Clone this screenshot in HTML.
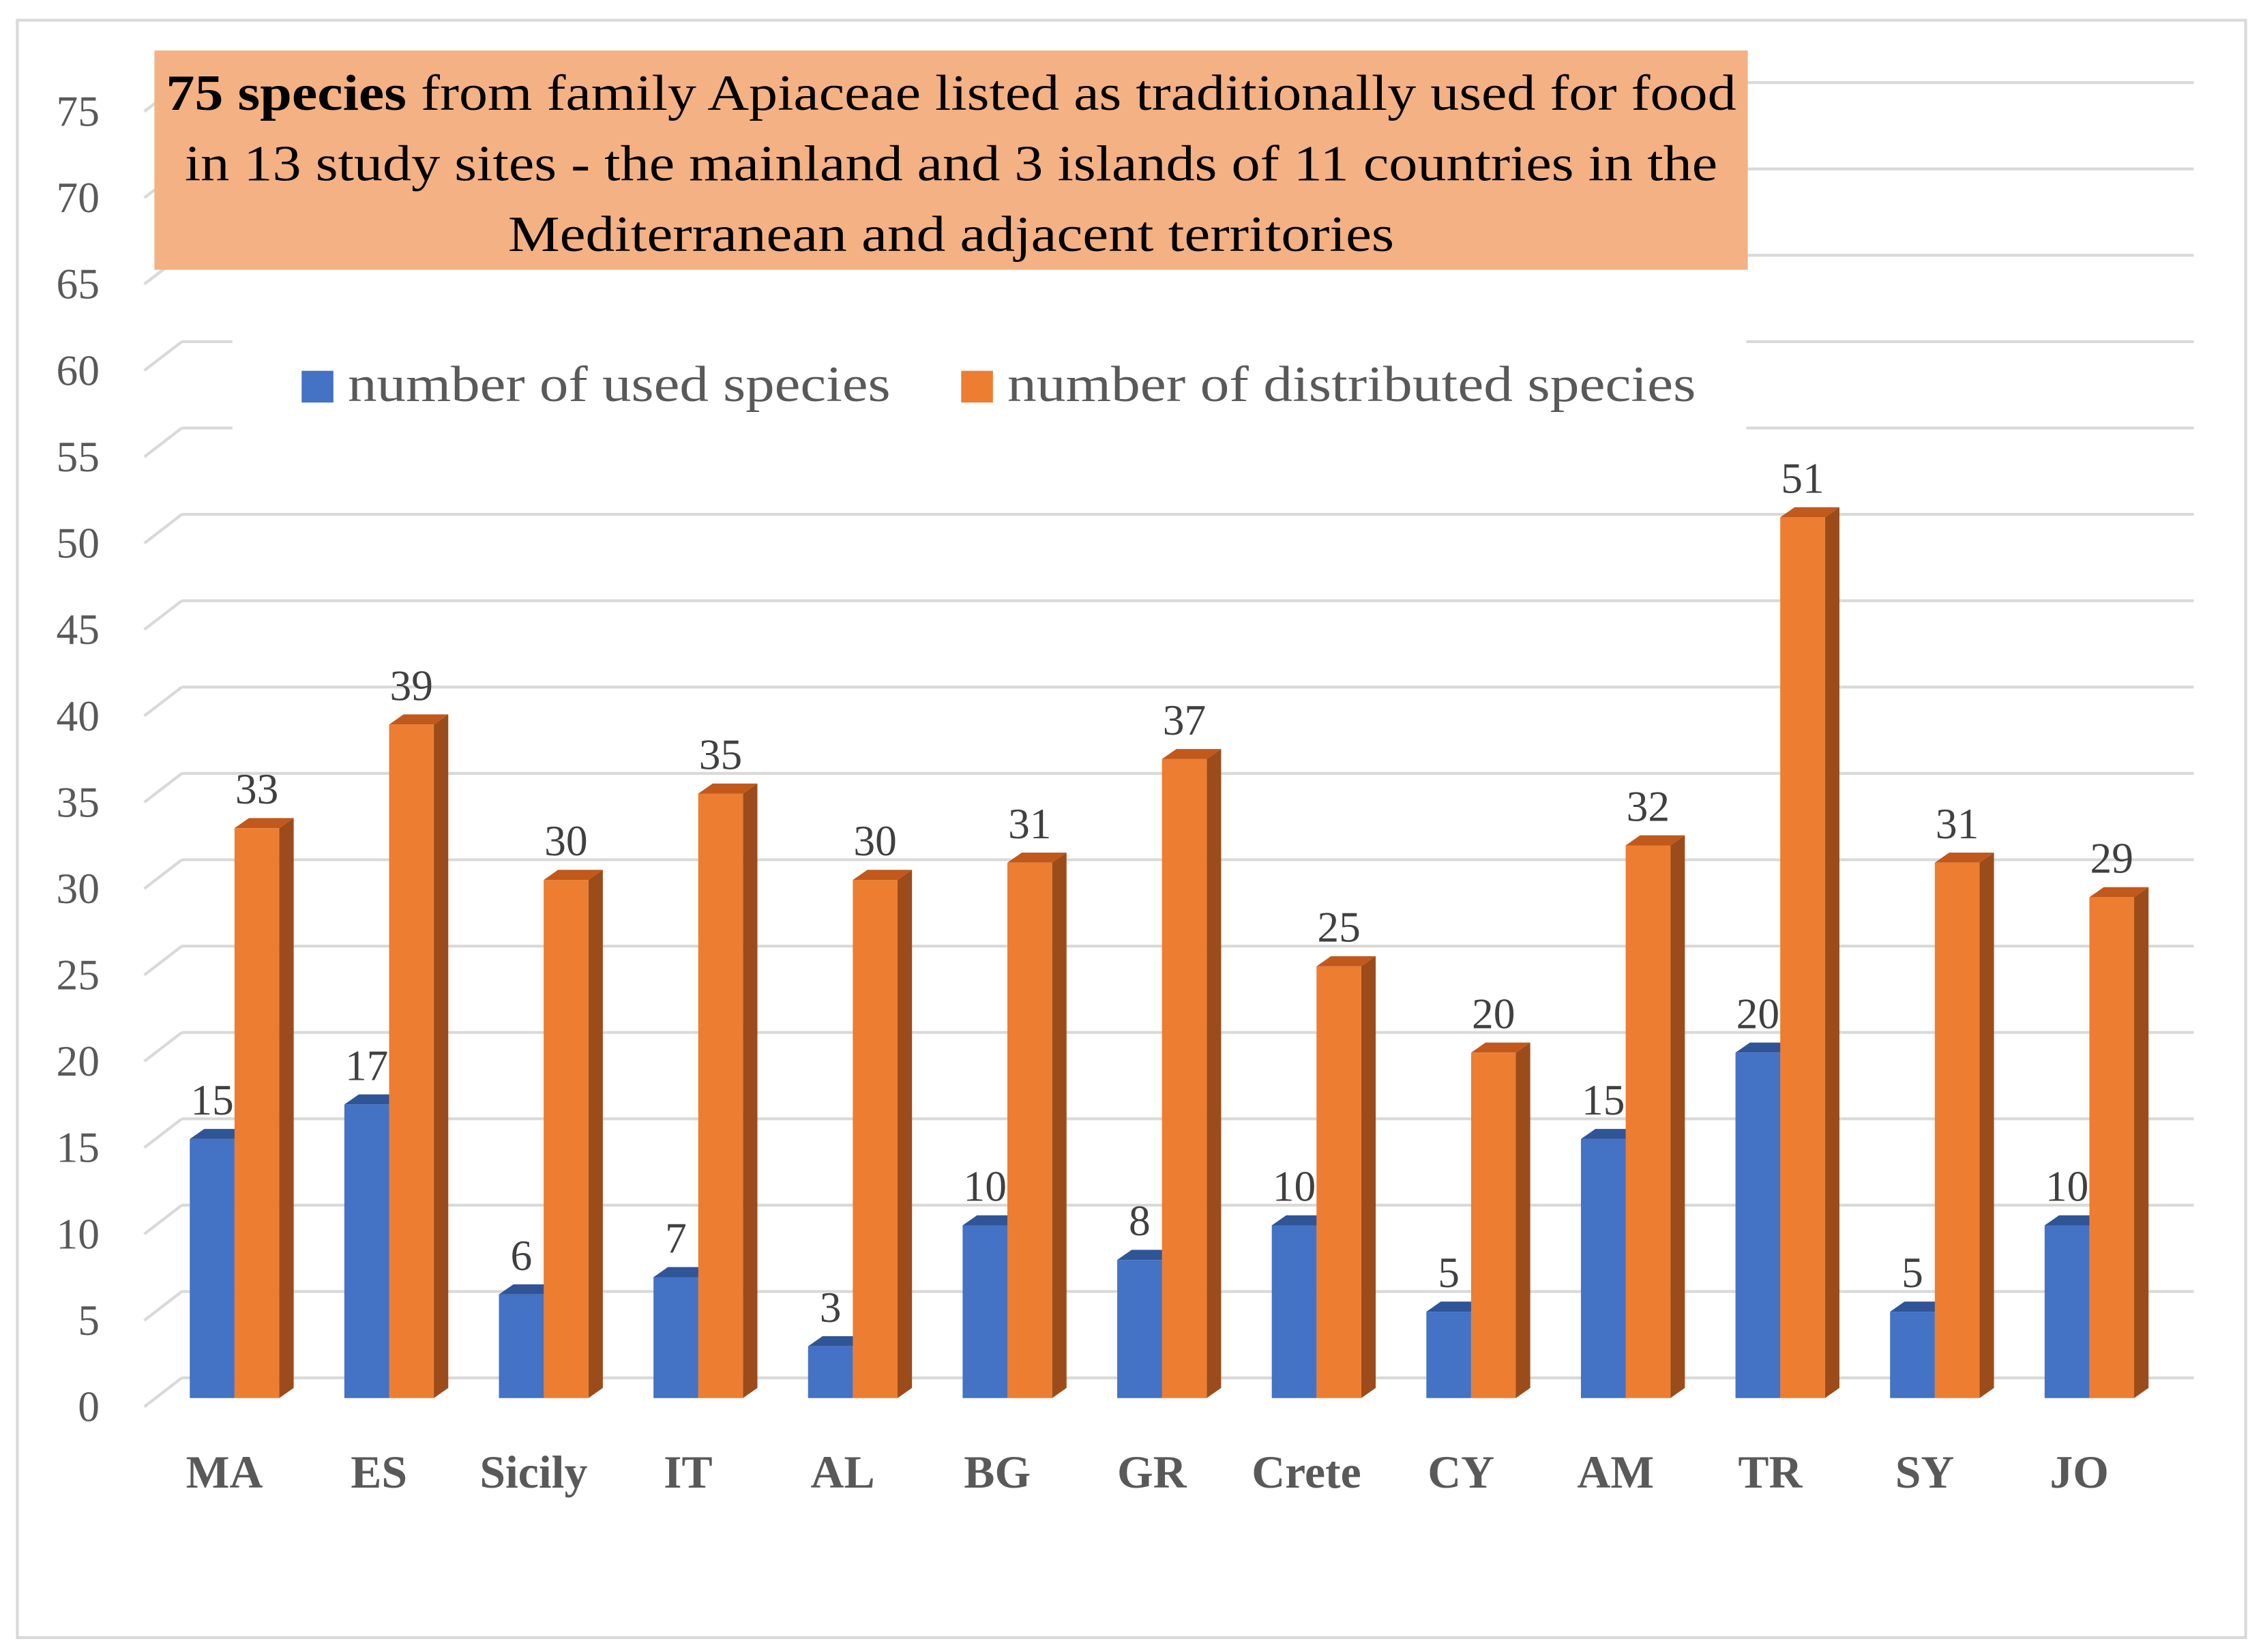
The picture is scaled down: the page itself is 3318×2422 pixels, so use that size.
<!DOCTYPE html>
<html><head><meta charset="utf-8">
<style>
html,body{margin:0;padding:0;background:#fff;}
svg{display:block;}
text{font-family:"Liberation Serif",serif;}
</style></head>
<body>
<svg id="chart" width="3318" height="2422" viewBox="0 0 1568 1145" preserveAspectRatio="none" xmlns="http://www.w3.org/2000/svg">
<rect x="12" y="14" width="1544" height="1121" fill="#fff" stroke="#d9d9d9" stroke-width="2"/>
<g id="grid"></g>
<g id="yaxis"></g>
<rect x="161" y="222" width="1049" height="90" fill="#fff"/>
<g id="bars"></g>
<g id="xaxis"></g>
<g>
<rect x="107" y="35" width="1104" height="152" fill="#F4B183"/>
<text x="115" y="76" font-size="35" fill="#000" textLength="1088" lengthAdjust="spacingAndGlyphs"><tspan font-weight="bold">75 species</tspan> from family Apiaceae listed as traditionally used for food</text>
<text x="128" y="125" font-size="35" fill="#000" textLength="1062" lengthAdjust="spacingAndGlyphs">in 13 study sites - the mainland and 3 islands of 11 countries in the</text>
<text x="352" y="174" font-size="35" fill="#000" textLength="614" lengthAdjust="spacingAndGlyphs">Mediterranean and adjacent territories</text>
</g>
<g>
<rect x="209" y="257" width="22" height="22" fill="#4472C4"/>
<text x="241" y="278" font-size="35" fill="#595959" textLength="376" lengthAdjust="spacingAndGlyphs">number of used species</text>
<rect x="666" y="257" width="22" height="22" fill="#ED7D31"/>
<text x="698" y="278" font-size="35" fill="#595959" textLength="477" lengthAdjust="spacingAndGlyphs">number of distributed species</text>
</g>
</svg>
<script>
const categories = ["MA","ES","Sicily","IT","AL","BG","GR","Crete","CY","AM","TR","SY","JO"];
const usedSpecies = [15,17,6,7,3,10,8,10,5,15,20,5,10];
const distributedSpecies = [33,39,30,35,30,31,37,25,20,32,51,31,29];
const yTicks = [0,5,10,15,20,25,30,35,40,45,50,55,60,65,70,75];

const NS = "http://www.w3.org/2000/svg";
const unit = 11.97;
const backY = v => 955 - v*unit;
const frontY = v => 969 - v*unit;
const catX = i => 131.5 + i*107.1;
const barW = 31, dx = 10, dy = 7;
function mk(tag, attrs, parent){const e=document.createElementNS(NS,tag);for(const k in attrs)e.setAttribute(k,attrs[k]);parent.appendChild(e);return e;}

const grid = document.getElementById('grid');
const yaxis = document.getElementById('yaxis');
yTicks.forEach(v=>{
  const y = backY(v);
  const l = mk('line',{x1:126,y1:y,x2:1520,y2:y,stroke:'#d9d9d9','stroke-width':2},grid);
  
  
  const d = mk('line',{x1:100,y1:y+20,x2:126,y2:y,stroke:'#d9d9d9','stroke-width':2},grid);
  
  
  const t = mk('text',{x:69,y:y+30,'font-size':30,fill:'#595959','text-anchor':'end'},yaxis);
  
  
  t.textContent = v;
});

const bars = document.getElementById('bars');
function bar(x, v, front, top, side, name){
  const yb = frontY(0), yt = frontY(v);
  const g = mk('g',{},bars);
  
  
  mk('polygon',{points:`${x+barW},${yb} ${x+barW+dx},${yb-dy} ${x+barW+dx},${yt-dy} ${x+barW},${yt}`,fill:side},g);
  mk('polygon',{points:`${x},${yt} ${x+dx},${yt-dy} ${x+barW+dx},${yt-dy} ${x+barW},${yt}`,fill:top},g);
  mk('rect',{x:x,y:yt,width:barW,height:yb-yt,fill:front},g);
  const t = mk('text',{x:x+barW/2,y:yt-17,'font-size':30,fill:'#404040','text-anchor':'middle'},bars);
  
  
  t.textContent = v;
}
const xaxis = document.getElementById('xaxis');
categories.forEach((c,i)=>{
  const x = catX(i);
  bar(x, usedSpecies[i], '#4472C4', '#2F5597', '#2F5597', 'bar-used-'+c);
  bar(x+barW, distributedSpecies[i], '#ED7D31', '#C0591B', '#9C4C1A', 'bar-distributed-'+c);
  const t = mk('text',{x:x+barW-7,y:1031,'font-size':32,'font-weight':'bold',fill:'#595959','text-anchor':'middle'},xaxis);
  
  
  t.textContent = c;
});
</script>
</body></html>
